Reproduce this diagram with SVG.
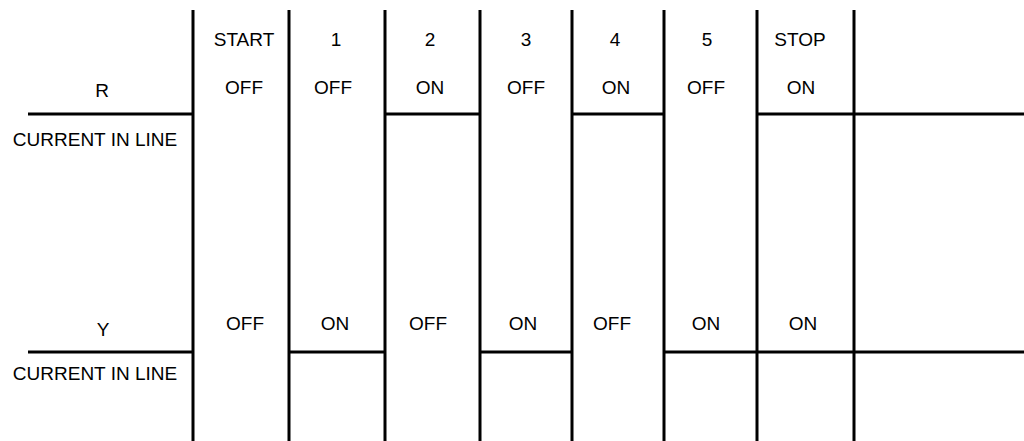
<svg xmlns="http://www.w3.org/2000/svg" width="1024" height="441" viewBox="0 0 1024 441">
<style>
.ln{stroke:#000;stroke-width:3;fill:none}
text{font-family:"Liberation Sans",Arial,sans-serif;font-size:19px;fill:#000;text-anchor:middle}
</style>
<rect width="1024" height="441" fill="#fff"/>
<g id="connectors">
<path class="ln" d="M193 10V441M289 10V441M385 10V441M480 10V441M572 10V441M664 10V441M757 10V441M854 10V441"/>
<path class="ln" d="M28 114H193M385 114H480M572 114H664M757 114H1024"/>
<path class="ln" d="M28 352H193M289 352H385M480 352H572M664 352H1024"/>
</g>
<g id="labels-left">
<text x="102" y="97">R</text>
<text x="95" y="146">CURRENT IN LINE</text>
<text x="103" y="336">Y</text>
<text x="95" y="380">CURRENT IN LINE</text>
</g>
<g id="headers">
<text x="244" y="46">START</text>
<text x="336" y="46">1</text>
<text x="430" y="46">2</text>
<text x="526" y="46">3</text>
<text x="615" y="46">4</text>
<text x="707" y="46">5</text>
<text x="800" y="46">STOP</text>
</g>
<g id="r-states">
<text x="244" y="94">OFF</text>
<text x="333" y="94">OFF</text>
<text x="430" y="94">ON</text>
<text x="526" y="94">OFF</text>
<text x="616" y="94">ON</text>
<text x="706" y="94">OFF</text>
<text x="801" y="94">ON</text>
</g>
<g id="y-states">
<text x="245" y="330">OFF</text>
<text x="335" y="330">ON</text>
<text x="428" y="330">OFF</text>
<text x="523" y="330">ON</text>
<text x="612" y="330">OFF</text>
<text x="706" y="330">ON</text>
<text x="803" y="330">ON</text>
</g>
</svg>
